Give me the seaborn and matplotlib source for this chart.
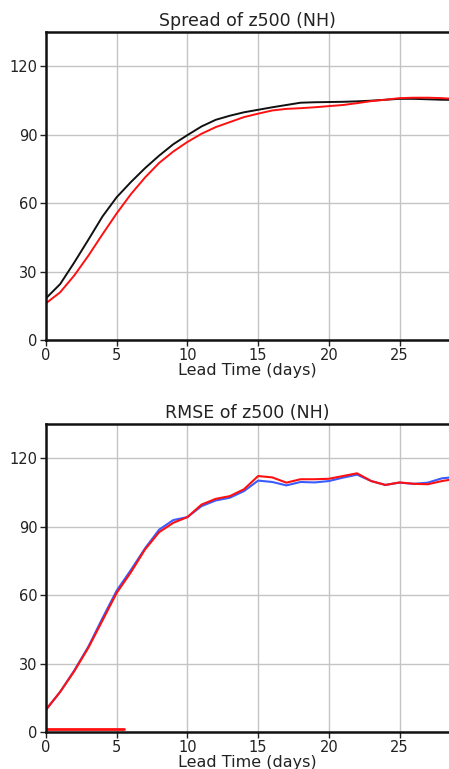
import numpy as np
import pandas as pd
import matplotlib
matplotlib.use("Agg")
import matplotlib.pyplot as plt
import seaborn as sns

# lead time in days
days = list(range(0, 30))

spread_black = [18.3, 24.5, 34.0, 44.0, 54.2, 62.6, 69.2, 75.3, 80.8, 85.8,
                89.8, 93.6, 96.5, 98.3, 99.8, 100.9, 102.0, 103.0, 104.0, 104.2,
                104.3, 104.4, 104.6, 104.9, 105.3, 105.7, 105.7, 105.5, 105.3, 105.2]
spread_red = [16.1, 20.9, 28.3, 37.0, 46.4, 55.5, 63.9, 71.2, 77.6, 82.6,
              86.8, 90.4, 93.3, 95.5, 97.7, 99.2, 100.6, 101.3, 101.6, 102.0,
              102.5, 103.0, 103.8, 104.7, 105.3, 106.0, 106.2, 106.2, 106.0, 105.6]

rmse_blue = [9.8, 17.6, 27.0, 37.5, 50.0, 62.0, 71.0, 80.5, 88.7, 92.9,
             94.2, 99.0, 101.5, 102.7, 105.6, 110.2, 109.6, 108.1, 109.6, 109.4,
             110.0, 111.5, 112.8, 110.0, 108.3, 109.3, 108.8, 109.3, 111.2, 111.8]
rmse_red = [9.8, 17.6, 26.7, 37.0, 49.0, 61.0, 70.0, 80.0, 87.6, 91.7,
            94.2, 99.7, 102.2, 103.4, 106.4, 112.2, 111.6, 109.3, 110.8, 110.8,
            111.0, 112.2, 113.4, 110.0, 108.3, 109.4, 108.8, 108.6, 110.0, 111.0]

# short flat red segment near zero in the RMSE panel
bias_days = [0, 5.5]
bias_red = [1.3, 1.3]

yticks = [0, 30, 60, 90, 120]
xticks = [0, 5, 10, 15, 20, 25]

sns.set_theme(style="white")
plt.rcParams['font.family'] = ['DejaVu Sans']

fig = plt.figure(figsize=(4.49, 7.69), dpi=100)
ax1 = fig.add_axes([0.1025, 0.5579, 0.8975, 0.4005])
ax2 = fig.add_axes([0.1025, 0.0481, 0.8975, 0.4005])

df_spread = pd.DataFrame({
    'day': days * 2,
    'value': spread_black + spread_red,
    'run': ['black'] * len(days) + ['red'] * len(days),
})
df_rmse = pd.DataFrame({
    'day': days * 2,
    'value': rmse_blue + rmse_red,
    'run': ['blue'] * len(days) + ['red'] * len(days),
})

sns.lineplot(data=df_spread, x='day', y='value', hue='run', ax=ax1,
             palette={'black': '#111111', 'red': '#ff1010'}, linewidth=1.4,
             legend=False)
sns.lineplot(data=df_rmse, x='day', y='value', hue='run', ax=ax2,
             palette={'blue': '#3a5cff', 'red': '#ff1010'}, linewidth=1.5,
             legend=False)
sns.lineplot(x=bias_days, y=bias_red, ax=ax2, color='#ff1010', linewidth=2)

for ax, title in [(ax1, 'Spread of z500 (NH)'), (ax2, 'RMSE of z500 (NH)')]:
    ax.set_xlim(0, 28.5)
    ax.set_ylim(0, 135)
    ax.set_xticks(xticks)
    ax.set_yticks(yticks)
    ax.grid(True, color='#c4c4c4', linewidth=1)
    ax.set_axisbelow(True)
    ax.set_title(title, fontsize=12.5, pad=4, color='#222222')
    ax.set_xlabel('Lead Time (days)', fontsize=11.5, labelpad=0, color='#222222')
    ax.set_ylabel('')
    ax.tick_params(axis='both', labelsize=10.5, length=4, width=1, direction='out',
                   colors='#222222', bottom=True, left=True, pad=2)
    for side in ['left', 'bottom', 'top']:
        ax.spines[side].set_color('#111111')
        ax.spines[side].set_linewidth(1.8)
    ax.spines['right'].set_visible(False)

fig.savefig('out.png', dpi=100)
